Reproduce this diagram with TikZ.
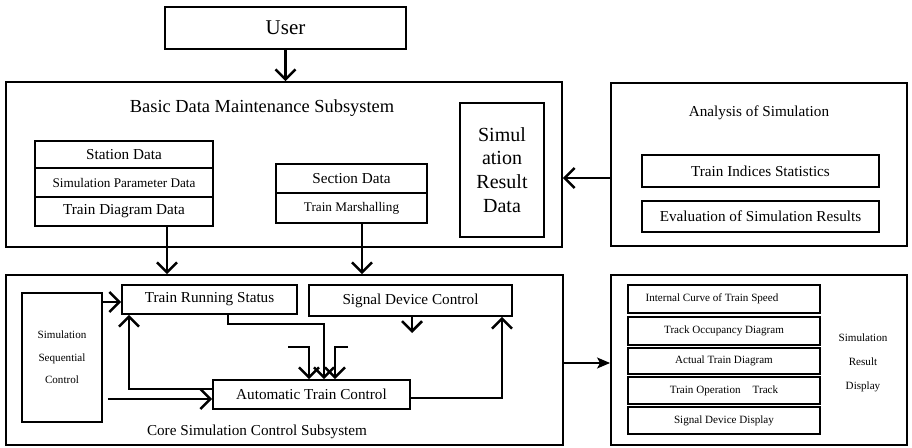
\documentclass[tikz,border=0pt]{standalone}
\usepackage{fontspec}
\setmainfont{Liberation Serif}
\usetikzlibrary{arrows.meta,calc}

\begin{document}
\begin{tikzpicture}[x=1pt,y=-1pt,
  box/.style={draw, line width=1.9pt, inner sep=0pt, align=center},
  thickbox/.style={draw, line width=2.6pt, inner sep=0pt, align=center},
  caption/.style={inner sep=0pt, align=center},
  fhuge/.style={font=\fontsize{21}{24}\selectfont},
  fbig/.style={font=\fontsize{20}{23.7}\selectfont},
  ftitle/.style={font=\fontsize{18.4}{22}\selectfont},
  fmid/.style={font=\fontsize{15.2}{18}\selectfont},
  fsmall/.style={font=\fontsize{13.2}{16}\selectfont},
  ftiny/.style={font=\fontsize{11.1}{22.5}\selectfont},
  fdisp/.style={font=\fontsize{11.1}{13}\selectfont},
  arr/.style={line width=2.5pt, -{Straight Barb[length=10pt,width=20pt]}},
  thinarr/.style={line width=1.5pt, -{Stealth[length=13pt,width=11pt,inset=3pt]}},
]
\useasboundingbox (0,0) rectangle (912,447);

% ---- user ----
\node[box, fhuge, minimum width=241pt, minimum height=42pt] (user) at (285.5,28) {User};

% ---- basic data maintenance subsystem ----
\node[box, minimum width=556pt, minimum height=165pt] (basic) at (284,164.5) {};
\node[caption, ftitle] (basictitle) at (262,108) {Basic Data Maintenance Subsystem};
\node[box, fmid, minimum width=178pt, minimum height=27pt] (station) at (124,154.5) {Station Data};
\node[box, fsmall, minimum width=178pt, minimum height=29pt] (param) at (124,182.5) {Simulation Parameter Data};
\node[box, fmid, minimum width=178pt, minimum height=29pt] (diag) at (124,211.5) {Train Diagram Data};
\node[box, fmid, minimum width=151pt, minimum height=29pt] (section) at (351.5,178.5) {Section Data};
\node[box, fsmall, minimum width=151pt, minimum height=30pt] (marsh) at (351.5,208) {Train Marshalling};
\node[box, fbig, minimum width=84pt, minimum height=134pt] (result) at (502,170) {Simul\\ation\\Result\\Data};

% ---- analysis of simulation ----
\node[box, minimum width=296pt, minimum height=163pt] (analysis) at (759,164.5) {};
\node[caption, fmid] (analysistitle) at (759,113) {Analysis of Simulation};
\node[box, fmid, minimum width=237pt, minimum height=32pt] (indices) at (760.5,171) {Train Indices Statistics};
\node[box, fmid, minimum width=237pt, minimum height=31pt] (evaluation) at (760.5,216.5) {Evaluation of Simulation Results};

% ---- core simulation control subsystem ----
\node[box, minimum width=557pt, minimum height=170pt] (core) at (284.5,360) {};
\node[caption, fmid] (coretitle) at (257,432) {Core Simulation Control Subsystem};
\node[box, ftiny, minimum width=80pt, minimum height=129pt] (seq) at (62,357.5) {Simulation\\Sequential\\Control};
\node[box, fmid, minimum width=175pt, minimum height=29pt] (running) at (209.5,299.5) {Train Running Status};
\node[box, fmid, minimum width=203pt, minimum height=31pt] (signal) at (410.5,300.5) {Signal Device Control};
\node[box, fmid, minimum width=197pt, minimum height=29pt] (atc) at (311.5,394.5) {Automatic Train Control};

% ---- simulation result display ----
\node[box, minimum width=296pt, minimum height=170pt] (display) at (759,360) {};
\node[thickbox, fdisp, minimum width=192pt, minimum height=28pt] (speed) at (724,299) {Internal Curve of Train Speed\hspace*{24pt}};
\node[thickbox, fdisp, minimum width=192pt, minimum height=28pt] (occupancy) at (724,331) {Track Occupancy Diagram};
\node[thickbox, fdisp, minimum width=192pt, minimum height=26pt] (actual) at (724,361) {Actual Train Diagram};
\node[thickbox, fdisp, minimum width=192pt, minimum height=27pt] (track) at (724,390.5) {Train Operation\hspace{12pt}Track};
\node[thickbox, fdisp, minimum width=192pt, minimum height=27pt] (sigdisp) at (724,420.5) {Signal Device Display};
\node[caption, font=\fontsize{11.1}{24}\selectfont] (disptext) at (863,363) {Simulation\\Result\\Display};

% ---- connectors between subsystems ----
\draw[arr] (user.south) -- (user.south |- basic.north);
\coordinate (ay) at (0,178);
\draw[arr] (analysis.west |- ay) -- (basic.east |- ay);
\coordinate (dl) at (167,0);
\coordinate (dr) at (362,0);
\draw[arr] (dl |- diag.south) -- (dl |- core.north);
\draw[arr] (dr |- marsh.south) -- (dr |- core.north);
\coordinate (cy) at (0,363);
\draw[thinarr] (core.east |- cy) -- (display.west |- cy);

% ---- connectors inside the core subsystem ----
\coordinate (sy1) at (0,302);
\draw[arr] (seq.east |- sy1) -- (running.west |- sy1);
\coordinate (sy2) at (0,399);
\draw[arr, shorten <=5pt] (seq.east |- sy2) -- (atc.west |- sy2);
\coordinate (fb) at (129,389);
\draw[arr] (atc.west |- fb) -| (running.south -| fb);
\coordinate (rs) at (228,0);
\coordinate (rj) at (324,324);
\draw[arr] (rs |- running.south) |- (rj) -- (rj |- atc.north);
\coordinate (s1) at (288,347);
\coordinate (s1b) at (309,347);
\draw[arr] (s1) -- (s1b) -- (s1b |- atc.north);
\coordinate (s2) at (348,347);
\coordinate (s2b) at (335,347);
\draw[arr] (s2) -- (s2b) -- (s2b |- atc.north);
\coordinate (sd) at (412,333);
\draw[arr] (sd |- signal.south) -- (sd);
\coordinate (ar) at (502,398);
\draw[arr] (atc.east |- ar) -| (signal.south -| ar);
\end{tikzpicture}
\end{document}
